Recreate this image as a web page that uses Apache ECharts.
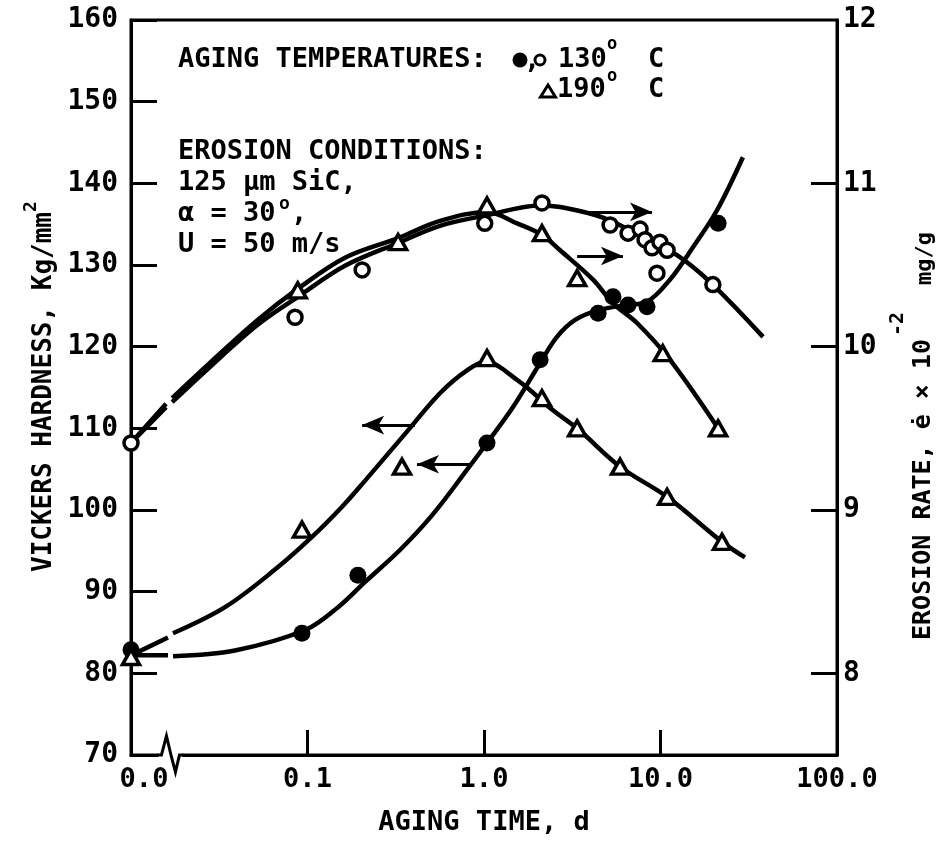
<!DOCTYPE html>
<html><head><meta charset="utf-8">
<script src="https://cdn.jsdelivr.net/npm/echarts@6/dist/echarts.min.js"></script>
<style>html,body{margin:0;padding:0;background:#fff}#c{width:942px;height:841px}</style>
</head><body><div id="c"></div>
<script>
const FONT = 'DejaVu Sans Mono';
// ---- axis ticks ----
const xTickLabels = ['0.0', '0.1', '1.0', '10.0', '100.0'];   // decades 0.01 .. 100 (0.01 drawn as "0.0", axis break)
const hardTicks = [70, 80, 90, 100, 110, 120, 130, 140, 150, 160];
const erosionLabelValues = [8, 9, 10, 11, 12];
const erosionTickValues = [8, 9, 10, 11];

// ---- Vickers hardness (left axis), 130 C: filled circles ----
const hard130Pts = [[0.01, 82.9], [0.093, 84.9], [0.193, 92.0], [1.04, 108.2], [2.08, 118.4],
  [4.43, 124.1], [5.38, 126.1], [6.55, 125.1], [8.39, 124.9], [21.2, 135.1]];
const hard130Fit = [[0.01, 82.2], [0.0162, 82.2], [0.0167, null], [0.0173, 82.1], [0.0388, 82.8],
  [0.0968, 85.3], [0.149, 88.1], [0.212, 91.2], [0.334, 95.1], [0.51, 99.4], [0.80, 104.9],
  [1.04, 108.2], [1.46, 112.6], [2.08, 118.0], [2.59, 121.2], [3.3, 123.3], [4.5, 124.5],
  [6.46, 125.1], [8.4, 125.5], [11.3, 128.2], [15.3, 132.2], [20.9, 136.7], [29.3, 143.2]];

// ---- Vickers hardness (left axis), 190 C: triangles ----
const hard190Pts = [[0.01, 82.0], [0.093, 97.6], [0.343, 105.3], [1.04, 118.6], [2.13, 113.7],
  [3.37, 110.0], [5.9, 105.3], [10.9, 101.6], [22.3, 96.1]];
const hard190Fit = [[0.01, 82.2], [0.0162, 84.4], [0.0167, null], [0.0173, 84.9], [0.0341, 88.1],
  [0.0654, 92.7], [0.106, 96.7], [0.157, 100.4], [0.212, 103.6], [0.366, 109.6], [0.563, 114.3],
  [0.801, 117.1], [1.04, 118.2], [1.23, 117.5], [1.46, 116.3], [1.82, 114.7], [2.46, 112.2],
  [3.37, 110.0], [5.9, 105.3], [10.9, 101.6], [22.3, 96.1], [30.1, 94.2]];

// ---- Erosion rate (right axis, x10^-2 mg/g), 130 C: open circles ----
const eros130Pts = [[0.01, 9.41], [0.085, 10.18], [0.204, 10.47], [1.01, 10.755], [2.13, 10.88],
  [5.18, 10.745], [6.55, 10.695], [7.66, 10.72], [8.17, 10.655], [8.95, 10.605], [9.93, 10.64],
  [10.9, 10.59], [9.55, 10.45], [19.8, 10.38]];
const eros130Fit = [[0.01, 9.41], [0.0158, 9.63], [0.0165, null], [0.0171, 9.66], [0.0273, 9.865],
  [0.0524, 10.135], [0.0883, 10.305], [0.163, 10.495], [0.326, 10.635], [0.563, 10.74],
  [1.04, 10.805], [2.08, 10.865], [2.7, 10.855], [4.72, 10.79], [7.96, 10.67], [12.4, 10.56],
  [19.1, 10.395], [38.1, 10.06]];

// ---- Erosion rate (right axis), 190 C: triangles ----
const eros190Pts = [[0.088, 10.345], [0.326, 10.64], [1.04, 10.865], [2.13, 10.695], [3.37, 10.42],
  [10.3, 9.96], [21.2, 9.50]];
const eros190Fit = [[0.01, 9.41], [0.0158, 9.65], [0.0165, null], [0.0171, 9.685], [0.0273, 9.89],
  [0.0524, 10.165], [0.0883, 10.355], [0.163, 10.545], [0.326, 10.665], [0.563, 10.77],
  [1.04, 10.825], [1.54, 10.755], [2.13, 10.685], [2.7, 10.59], [4.15, 10.41], [5.38, 10.265],
  [7.36, 10.145], [11.3, 9.92], [21.2, 9.50]];

// ---- arrows: [fromT, toT, value] ----
const arrowsLeft = [[0.406, 0.204, 110.4], [0.834, 0.417, 105.6]];
const arrowsRight = [[3.73, 8.95, 10.825], [3.37, 6.13, 10.555]];

const chart = echarts.init(document.getElementById('c'));

const lbl = (size) => ({ color: '#000', fontFamily: FONT, fontWeight: 'bold', fontSize: size });
const fitLine = (data, yIdx) => ({
  type: 'line', data, yAxisIndex: yIdx, smooth: 0.35, showSymbol: false, symbol: 'none',
  connectNulls: false, lineStyle: { color: '#000', width: 4.5 }, z: 2, silent: true
});
const pts = (data, yIdx, kind) => {
  let s = { type: 'scatter', data, yAxisIndex: yIdx, z: 4, silent: true };
  if (kind === 'filled') { s.symbol = 'circle'; s.symbolSize = 17; s.itemStyle = { color: '#000', opacity: 1 }; }
  else if (kind === 'open') { s.symbol = 'circle'; s.symbolSize = 14; s.itemStyle = { color: '#fff', borderColor: '#000', borderWidth: 3.5, opacity: 1 }; }
  else { s.symbol = 'triangle'; s.symbolSize = [17, 15]; s.itemStyle = { color: '#fff', borderColor: '#000', borderWidth: 3.5, opacity: 1 }; }
  return s;
};
const arrowSeries = (list, yIdx) => ({
  type: 'line', data: [], yAxisIndex: yIdx, z: 3,
  markLine: {
    silent: true, animation: false, symbol: ['none', 'arrow'], symbolSize: [14, 22],
    label: { show: false }, lineStyle: { color: '#000', width: 3, type: 'solid', opacity: 1 },
    data: list.map(a => [{ coord: [a[0], a[2]] }, { coord: [a[1], a[2]] }])
  }
});

chart.setOption({
  animation: false,
  backgroundColor: '#fff',
  grid: { left: 131, right: 105, top: 20, bottom: 86, show: true, borderColor: '#000', borderWidth: 3 },
  xAxis: {
    type: 'log', logBase: 10, min: 0.01, max: 100, splitNumber: 4,
    name: 'AGING TIME, d', nameLocation: 'middle', nameGap: 54, nameTextStyle: lbl(27),
    axisLine: { lineStyle: { color: '#000', width: 3 } },
    axisTick: { inside: true, length: 25, lineStyle: { color: '#000', width: 3 } },
    axisLabel: Object.assign(lbl(27), {
      margin: 11,
      formatter: (v) => {
        const k = Math.round(Math.log10(v));
        const s = xTickLabels[k + 2];
        return k === -2 ? '{p|' + s + '}' : s;
      },
      rich: { p: Object.assign(lbl(27), { padding: [0, 0, 0, 26] }) }
    }),
    splitLine: { show: false }, minorTick: { show: false }
  },
  yAxis: [{
    type: 'value', min: hardTicks[0], max: hardTicks[hardTicks.length - 1], interval: 10, position: 'left',
    axisLine: { show: true, lineStyle: { color: '#000', width: 3 } },
    axisTick: { show: true, inside: true, length: 26, lineStyle: { color: '#000', width: 3 } },
    axisLabel: Object.assign(lbl(28), { margin: 13 }),
    splitLine: { show: false }
  }, {
    type: 'value', min: 7.5, max: 12, position: 'right', alignTicks: false,
    axisLine: { show: true, lineStyle: { color: '#000', width: 3 } },
    axisTick: { show: true, inside: true, length: 26, customValues: erosionTickValues, lineStyle: { color: '#000', width: 3 } },
    axisLabel: Object.assign(lbl(28), { margin: 6, customValues: erosionLabelValues }),
    splitLine: { show: false }
  }],
  series: [
    fitLine(hard130Fit, 0), fitLine(hard190Fit, 0), fitLine(eros130Fit, 1), fitLine(eros190Fit, 1),
    pts(hard130Pts, 0, 'filled'), pts(hard190Pts, 0, 'tri'), pts(eros130Pts, 1, 'open'), pts(eros190Pts, 1, 'tri'),
    arrowSeries(arrowsLeft, 0), arrowSeries(arrowsRight, 1)
  ]
});

// ---- annotations and decorations ----
function txt(x, y, s, size, rot) {
  return { type: 'text', x, y, rotation: rot || 0, z: 100, silent: true,
    style: { text: s, fontSize: size, fontFamily: FONT, fontWeight: 'bold', fill: '#000',
      align: 'left', verticalAlign: 'middle', textAlign: 'left', textVerticalAlign: 'middle' } };
}
const R90 = Math.PI / 2;
const bx = chart.convertToPixel({ xAxisIndex: 0 }, 0.0163);
const by = chart.convertToPixel({ yAxisIndex: 0 }, 70);
const g = [
  txt(178, 60, 'AGING TEMPERATURES:', 27),
  { type: 'circle', z: 100, shape: { cx: 520, cy: 60, r: 7.5 }, style: { fill: '#000' } },
  txt(524, 61, ',', 27),
  { type: 'circle', z: 100, shape: { cx: 540, cy: 60, r: 5 }, style: { fill: '#fff', stroke: '#000', lineWidth: 3 } },
  txt(558, 60, '130', 27), txt(607, 45, 'o', 17), txt(648, 60, 'C', 27),
  { type: 'polygon', z: 100, shape: { points: [[540.5, 97], [555.5, 97], [548, 85]] }, style: { fill: '#fff', stroke: '#000', lineWidth: 3 } },
  txt(557, 90, '190', 27), txt(607, 77, 'o', 17), txt(648, 90, 'C', 27),
  txt(178, 152, 'EROSION CONDITIONS:', 27),
  txt(178, 183, '125 µm SiC,', 27),
  txt(178, 214, 'α = 30', 27), txt(279, 204, 'o', 18), txt(291, 214, ',', 27),
  txt(178, 245, 'U = 50 m/s', 27),
  // left axis title
  txt(44, 572, 'VICKERS HARDNESS, Kg/mm', 26, R90), txt(31, 212, '2', 18, R90),
  // right axis title
  txt(923, 640, 'EROSION RATE, ė × 10', 25, R90), txt(898, 336, '-2', 20, R90), txt(925, 285, 'mg/g', 22, R90),
  // axis break on the time axis
  { type: 'rect', z: 100, shape: { x: bx - 10, y: by - 3, width: 24, height: 6 }, style: { fill: '#fff' } },
  { type: 'polyline', z: 101, shape: { points: [[bx - 11, by], [bx - 7, by], [bx - 2, by - 19], [bx + 3, by + 2], [bx + 7, by + 17], [bx + 11, by], [bx + 15, by]] },
    style: { fill: null, stroke: '#000', lineWidth: 3 } }
];
chart.setOption({ graphic: g });
</script></body></html>
